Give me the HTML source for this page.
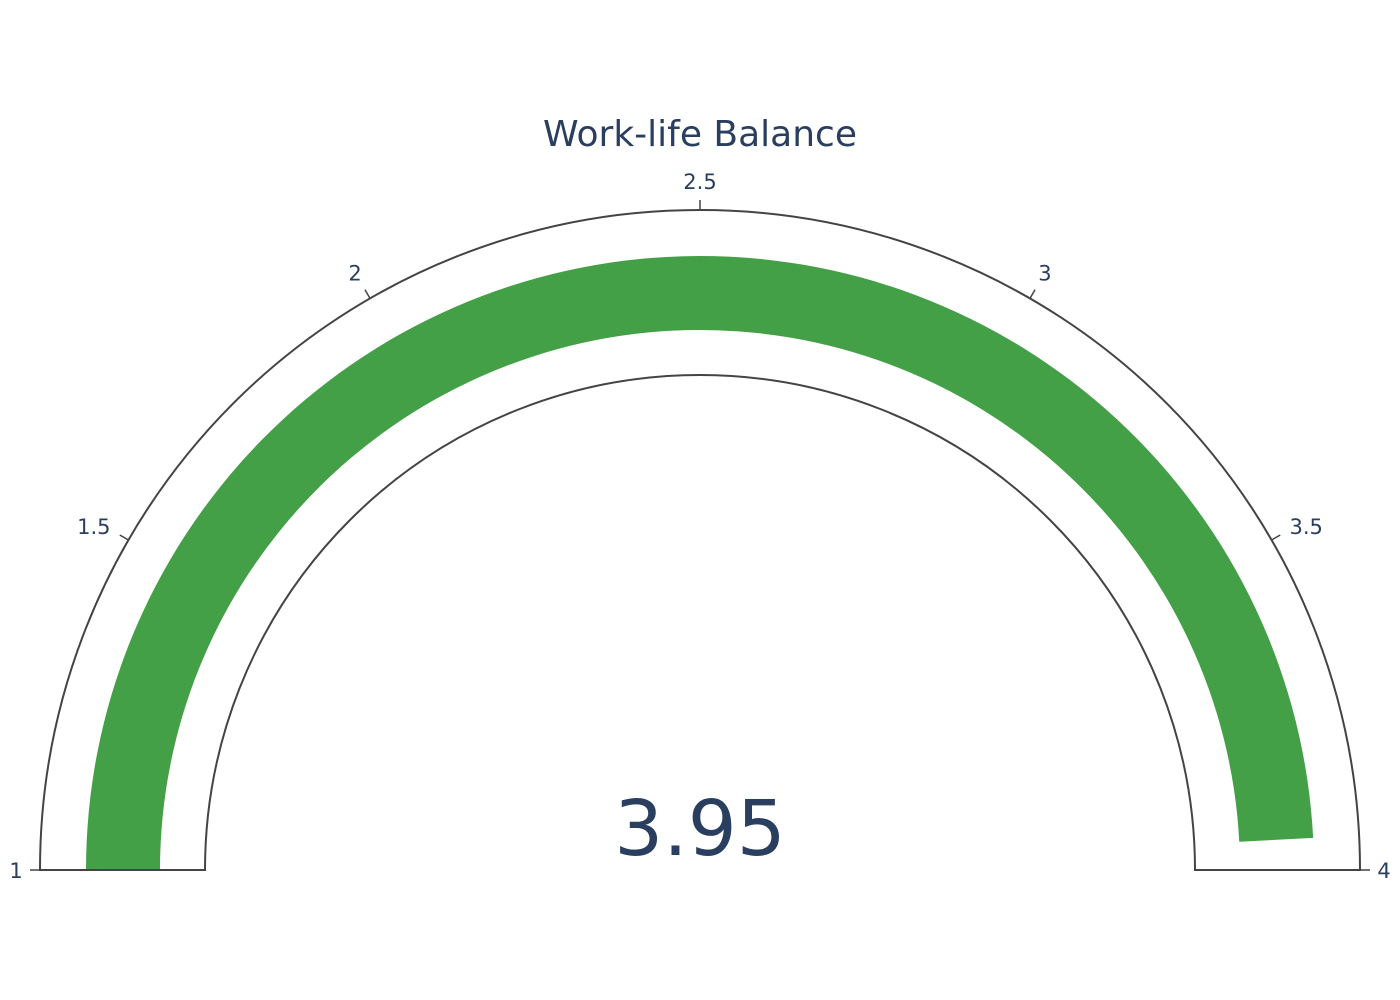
<!DOCTYPE html>
<html><head><meta charset="utf-8"><style>
html,body{margin:0;padding:0;background:#fff;}
svg{display:block;font-family:"DejaVu Sans","Liberation Sans",sans-serif;}
</style></head><body>
<svg id="g" width="1400" height="1000" viewBox="0 0 1400 1000">
<rect width="1400" height="1000" fill="#fff"/>
<text x="700" y="146" text-anchor="middle" font-size="36" fill="#2a3f5f">Work-life Balance</text>
</svg>
<script>
const gaugeValue = [3.95];
const rangeMinMax = [1, 4];
const tickValues = [1, 1.5, 2, 2.5, 3, 3.5, 4];
const tickLabels = ["1", "1.5", "2", "2.5", "3", "3.5", "4"];

const svg = document.getElementById('g');
const NS = 'http://www.w3.org/2000/svg';
const cx = 700, cy = 870, R = 660, Ri = 495, bOut = 614, bIn = 540;
function ang(v){ const f=(v-rangeMinMax[0])/(rangeMinMax[1]-rangeMinMax[0]); return Math.PI*(1-f); }
function pt(r,a){ return [cx + r*Math.cos(a), cy - r*Math.sin(a)]; }
function mk(tag, attrs){ const e=document.createElementNS(NS,tag); for(const k in attrs) e.setAttribute(k,attrs[k]); svg.appendChild(e); return e; }
function band(r1,r2,a1,a2){
  const p1=pt(r2,a1), p2=pt(r2,a2), p3=pt(r1,a2), p4=pt(r1,a1);
  const large = Math.abs(a1-a2)>Math.PI?1:0;
  return `M${p1[0]},${p1[1]} A${r2},${r2} 0 ${large} 1 ${p2[0]},${p2[1]} L${p3[0]},${p3[1]} A${r1},${r1} 0 ${large} 0 ${p4[0]},${p4[1]} Z`;
}
const bar = mk('path',{d:band(bIn,bOut,ang(rangeMinMax[0]),ang(gaugeValue[0])),fill:'#43a047'});


const outline = mk('path',{d:band(Ri,R,ang(rangeMinMax[0]),ang(rangeMinMax[1])),fill:'none',stroke:'#444','stroke-width':2});


tickValues.forEach((v,i)=>{
  const a=ang(v), p1=pt(R,a), p2=pt(R+10,a);
  const t=mk('line',{x1:p1[0],y1:p1[1],x2:p2[0],y2:p2[1],stroke:'#444','stroke-width':1.5});
  
  
  const hw = (tickLabels[i].length-1)*6;
  const r = 680 + 4*Math.abs(Math.cos(a)) + 9*Math.abs(Math.sin(a));
  const lp = pt(r,a);
  const lbl=mk('text',{x:lp[0]+Math.cos(a)*hw,y:lp[1]+8,'text-anchor':'middle','font-size':21,fill:'#2a3f5f'});
  lbl.textContent=tickLabels[i];
  
  
});
const num=mk('text',{x:cx,y:855,'text-anchor':'middle','font-size':77,fill:'#2a3f5f'});
num.textContent=gaugeValue[0].toFixed(2);


</script>
</body></html>
